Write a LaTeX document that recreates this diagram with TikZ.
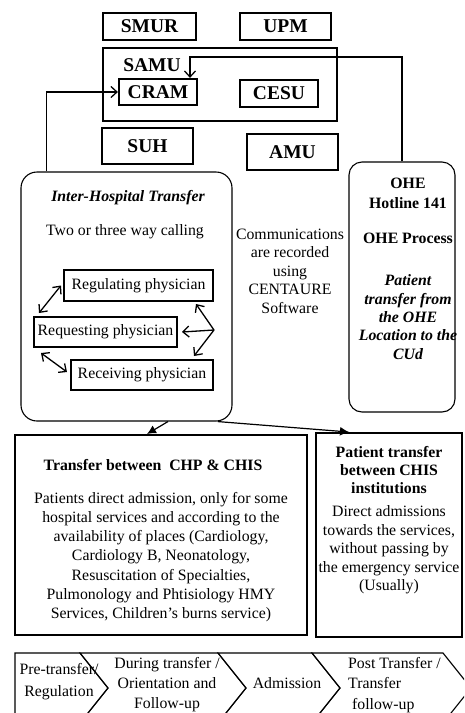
\documentclass[tikz,border=0pt]{standalone}
\usepackage{fontspec}
\setmainfont{Liberation Serif}
\usetikzlibrary{arrows.meta,positioning,calc}
\tikzset{
  unitbox/.style={
      draw,
      line width=2.2pt,
      inner sep=0pt,
      font=\fontsize{19.5}{22}\selectfont\bfseries,
  },
  physbox/.style={
      draw,
      line width=2pt,
      inner sep=0pt,
  },
  roundbox/.style={
      draw,
      line width=1.1pt,
      rounded corners=16pt,
      inner sep=0pt,
  },
  bigbox/.style={
      draw,
      line width=2pt,
      inner sep=0pt,
  },
  txt/.style={
      align=center,
      inner sep=0pt,
  },
  arr/.style={
      line width=1.3pt,
      -{Straight Barb[length=6pt,width=11pt]}
  },
  dblarr/.style={
      line width=1.3pt,
      {Straight Barb[length=6pt,width=11pt]}-{Straight Barb[length=6pt,width=11pt]}
  },
  fillarr/.style={
      line width=1.2pt,
      -{Latex[length=9pt,width=9pt]}
  },
  chevron/.style={
      draw,
      line width=1.1pt
  }
}

\begin{document}
\begin{tikzpicture}[x=1pt,y=-1pt,font=\fontsize{15.8}{18.5}\selectfont]
  \useasboundingbox (0,0) rectangle (464,713);

  % units around the CRAM
  \node[unitbox, minimum width=93pt, minimum height=27pt](smur) at (149.5,26.5) {SMUR};
  \node[unitbox, minimum width=91pt, minimum height=27pt](upm) at (285.5,26.5) {UPM};
  \node[draw, line width=2pt, minimum width=234pt, minimum height=73pt](samu) at (220,84.5) {};
  \node[txt, font=\fontsize{19.5}{22}\selectfont\bfseries](samulbl) at (152,65) {SAMU};
  \node[unitbox, minimum width=78pt, minimum height=26pt](cram) at (158,92) {CRAM};
  \node[unitbox, minimum width=78pt, minimum height=27pt](cesu) at (279,93.5) {CESU};
  \node[unitbox, minimum width=91pt, minimum height=36pt](suh) at (147.5,146) {SUH};
  \node[unitbox, minimum width=91pt, minimum height=36pt](amu) at (292.5,152) {AMU};

  % inter-hospital transfer
  \node[roundbox, minimum width=211pt, minimum height=249pt](iht) at (126.5,296.5) {};
  \node[txt, font=\fontsize{15.8}{18.5}\selectfont\bfseries\itshape](ihttitle) at (128,198) {Inter-Hospital Transfer};
  \node[txt](ihtsub) at (125,232) {Two or three way calling};
  \node[physbox, minimum width=149pt, minimum height=31pt](reg) at (138.5,285.5) {Regulating physician};
  \node[physbox, minimum width=143pt, minimum height=30pt](req) at (105.5,332) {Requesting physician};
  \node[physbox, minimum width=142pt, minimum height=30pt](rec) at (142,375) {Receiving physician};
  \coordinate (vtx) at (214,330);

  \node[txt](comm) at (290,271) {Communications\\are recorded\\using\\CENTAURE\\Software};

  % OHE
  \node[roundbox, rounded corners=13pt, minimum width=106pt, minimum height=250pt](ohe) at (402,287) {};
  \node[txt, font=\fontsize{15.8}{20}\selectfont\bfseries](ohe1) at (408,193) {OHE\\Hotline 141};
  \node[txt, font=\fontsize{15.8}{18.5}\selectfont\bfseries](ohe2) at (408,238) {OHE Process};
  \node[txt, font=\fontsize{15.8}{18.3}\selectfont\bfseries\itshape](ohe3) at (408,317) {Patient\\transfer from\\the OHE\\Location to the\\CUd};
  \coordinate (bend) at (190,57);

  % destinations
  \node[bigbox, minimum width=292pt, minimum height=200pt](chp) at (161,535) {};
  \node[txt, font=\fontsize{15.8}{18.5}\selectfont\bfseries](chptitle) at (153,465) {Transfer between\ \ CHP \& CHIS};
  \node[txt, font=\fontsize{15.8}{19.2}\selectfont](chptext) at (161,557) {Patients direct admission, only for some\\hospital services and according to the\\availability of places (Cardiology,\\Cardiology B, Neonatology,\\Resuscitation of Specialties,\\Pulmonology and Phtisiology HMY\\Services, Children's burns service)};
  \node[bigbox, minimum width=146pt, minimum height=204pt](chis) at (389,535) {};
  \node[txt, font=\fontsize{15.8}{18.3}\selectfont\bfseries](chistitle) at (389,470) {Patient transfer\\between CHIS\\institutions};
  \node[txt](chistext) at (389,550) {Direct admissions\\towards the services,\\without passing by\\the emergency service\\(Usually)};

  % connectors
  \draw[arr] ([xshift=26pt]iht.north west) |- (cram.west);
  \draw[arr] (ohe.north) |- (bend) -- ([xshift=32pt]cram.north);
  \draw[dblarr] ([xshift=-2pt]reg.west) -- ([shift={(6,-3)}]req.north west);
  \draw[dblarr] ([shift={(8,5)}]req.south west) -- ([shift={(-3,-3)}]rec.west);
  \draw[arr] (vtx) -- ([xshift=4pt]req.east);
  \draw[arr] (vtx) -- ([shift={(-18,2)}]reg.south east);
  \draw[arr] (vtx) -- ([shift={(-20,-3)}]rec.north east);
  \draw[fillarr] ([xshift=41.5pt]iht.south) -- ([xshift=-14pt]chp.north);
  \draw[fillarr] ([xshift=-15pt]iht.south east) -- ([xshift=34pt]chis.north west);

  % process steps
  \begin{scope}
    \clip (0,0) rectangle (464,713);
    \draw[chevron] (15,653) -- (80,653) -- (108,688) -- (80,723) -- (15,723) -- cycle;
    \draw[chevron] (80,653) -- (218,653) -- (246,688) -- (218,723) -- (80,723) -- (108,688) -- cycle;
    \draw[chevron] (218,653) -- (312,653) -- (340,688) -- (312,723) -- (218,723) -- (246,688) -- cycle;
    \draw[chevron] (312,653) -- (443,653) -- (471,688) -- (443,723) -- (312,723) -- (340,688) -- cycle;
    \node[txt, font=\fontsize{15.8}{22}\selectfont](st1) at (59,682) {Pre-transfer/\\Regulation};
    \node[txt, font=\fontsize{15.8}{20}\selectfont](st2) at (167,685) {During transfer /\\Orientation and\\Follow-up};
    \node[txt](st3) at (287,683) {Admission};
    \node[txt, align=left, font=\fontsize{15.8}{20.5}\selectfont, anchor=west](st4) at (348,685) {Post Transfer /\\Transfer\\\ follow-up};
  \end{scope}
\end{tikzpicture}
\end{document}
